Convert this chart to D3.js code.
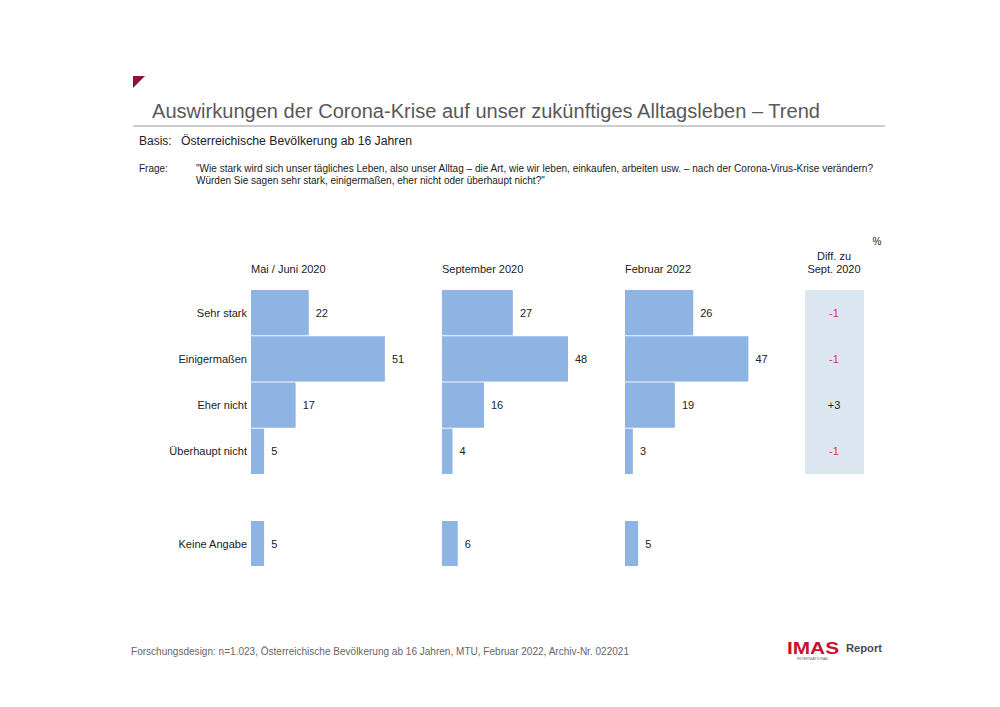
<!DOCTYPE html>
<html><head><meta charset="utf-8">
<script src="https://cdn.jsdelivr.net/npm/d3@7"></script>
<style>body{margin:0;background:#fff}svg{display:block;font-family:"Liberation Sans",Arial,sans-serif}</style>
</head><body>
<svg id="c" width="1000" height="707"></svg>
<script>
const categories = ["Sehr stark","Einigermaßen","Eher nicht","Überhaupt nicht"];
const extraCategory = "Keine Angabe";
const waves = ["Mai / Juni 2020","September 2020","Februar 2022"];
const valuesMaiJuni2020 = [22,51,17,5];
const valuesSept2020 = [27,48,16,4];
const valuesFeb2022 = [26,47,19,3];
const keineAngabe = [5,6,5];
const diffLabels = ["-1","-1","+3","-1"];

const svg = d3.select("#c");
const gray = "#595959";

// header
svg.append("path").attr("d","M133,76 L145,76 L133,88 Z").attr("fill","#8B1538");
svg.append("text").attr("x",152).attr("y",118).attr("font-size",20).attr("fill",gray)
  .attr("textLength",668).attr("lengthAdjust","spacingAndGlyphs")
  .text("Auswirkungen der Corona-Krise auf unser zukünftiges Alltagsleben – Trend");
svg.append("line").attr("x1",133).attr("x2",885).attr("y1",126).attr("y2",126).attr("stroke","#9a9a9a").attr("stroke-width",1.2);
svg.append("text").attr("x",139).attr("y",145).attr("font-size",12).attr("fill","#222").text("Basis:");
svg.append("text").attr("x",181).attr("y",145).attr("font-size",12).attr("fill","#222")
  .attr("textLength",231).attr("lengthAdjust","spacingAndGlyphs").text("Österreichische Bevölkerung ab 16 Jahren");
svg.append("text").attr("x",139).attr("y",172).attr("font-size",10).attr("fill","#222").text("Frage:");
svg.append("text").attr("x",196).attr("y",172).attr("font-size",10).attr("fill","#222")
  .attr("textLength",677).attr("lengthAdjust","spacingAndGlyphs")
  .text("\"Wie stark wird sich unser tägliches Leben, also unser Alltag – die Art, wie wir leben, einkaufen, arbeiten usw. – nach der Corona-Virus-Krise verändern?");
svg.append("text").attr("x",196).attr("y",184).attr("font-size",10).attr("fill","#222")
  .text("Würden Sie sagen sehr stark, einigermaßen, eher nicht oder überhaupt nicht?\"");

// scales
const y = d3.scaleBand().domain(categories).range([290,474]).paddingInner(0.02).paddingOuter(0);
const yExtra = d3.scaleBand().domain([extraCategory]).range([521,566]);
const x = d3.scaleLinear().domain([0,100]).range([0,262.5]);
const panelX = d3.scaleOrdinal().domain(waves).range([251,442,625]);
const series = [valuesMaiJuni2020, valuesSept2020, valuesFeb2022];
const barColor = "#8EB4E3";

// category labels
svg.selectAll(".cat").data(categories).join("text")
  .attr("x",247).attr("y",d=>y(d)+y.bandwidth()/2+4).attr("text-anchor","end")
  .attr("font-size",11).attr("fill","#222").text(d=>d);
svg.append("text").attr("x",247).attr("y",yExtra(extraCategory)+yExtra.bandwidth()/2+4)
  .attr("text-anchor","end").attr("font-size",11).attr("fill","#222").text(extraCategory);

waves.forEach((w,i)=>{
  const x0 = panelX(w);
  const g = svg.append("g");
  g.append("text").attr("x",x0).attr("y",273).attr("font-size",11).attr("fill","#222").text(w);
  g.selectAll("rect").data(series[i]).join("rect")
    .attr("x",x0).attr("y",(d,j)=>y(categories[j]))
    .attr("width",d=>x(d)).attr("height",y.bandwidth()).attr("fill",barColor);
  g.selectAll(".v").data(series[i]).join("text")
    .attr("x",d=>x0+x(d)+7).attr("y",(d,j)=>y(categories[j])+y.bandwidth()/2+4)
    .attr("font-size",11).attr("fill","#222").text(d=>d);
  g.append("rect").attr("x",x0).attr("y",yExtra(extraCategory)).attr("width",x(keineAngabe[i]))
    .attr("height",yExtra.bandwidth()).attr("fill",barColor);
  g.append("text").attr("x",x0+x(keineAngabe[i])+7).attr("y",yExtra(extraCategory)+yExtra.bandwidth()/2+4)
    .attr("font-size",11).attr("fill","#222").text(keineAngabe[i]);
});

// diff column
svg.append("rect").attr("x",805).attr("y",290).attr("width",59).attr("height",184).attr("fill","#DCE6F1");
svg.append("text").attr("x",834).attr("y",260).attr("text-anchor","middle").attr("font-size",11).attr("fill","#222").text("Diff. zu");
svg.append("text").attr("x",834).attr("y",273).attr("text-anchor","middle").attr("font-size",11).attr("fill","#222").text("Sept. 2020");
svg.append("text").attr("x",877).attr("y",245).attr("text-anchor","middle").attr("font-size",10).attr("fill","#222").text("%");
svg.selectAll(".d").data(diffLabels).join("text")
  .attr("x",834).attr("y",(d,j)=>y(categories[j])+y.bandwidth()/2+4).attr("text-anchor","middle")
  .attr("font-size",11).attr("fill",d=>d.startsWith("-")?"#E03434":"#222").text(d=>d);

// footer
svg.append("text").attr("x",131).attr("y",655).attr("font-size",10.5).attr("fill","#666")
  .attr("textLength",498).attr("lengthAdjust","spacingAndGlyphs")
  .text("Forschungsdesign: n=1.023, Österreichische Bevölkerung ab 16 Jahren, MTU, Februar 2022, Archiv-Nr. 022021");
svg.append("text").attr("x",787).attr("y",654).attr("font-size",16).attr("font-weight","bold").attr("fill","#C8102E")
  .attr("textLength",52).attr("lengthAdjust","spacingAndGlyphs").text("IMAS");
svg.append("text").attr("x",797).attr("y",660).attr("font-size",4).attr("fill","#666").text("INTERNATIONAL");
svg.append("text").attr("x",846).attr("y",652).attr("font-size",10.5).attr("font-weight","bold").attr("fill","#4a4a4a")
  .attr("textLength",36).attr("lengthAdjust","spacingAndGlyphs").text("Report");
</script>
</body></html>
